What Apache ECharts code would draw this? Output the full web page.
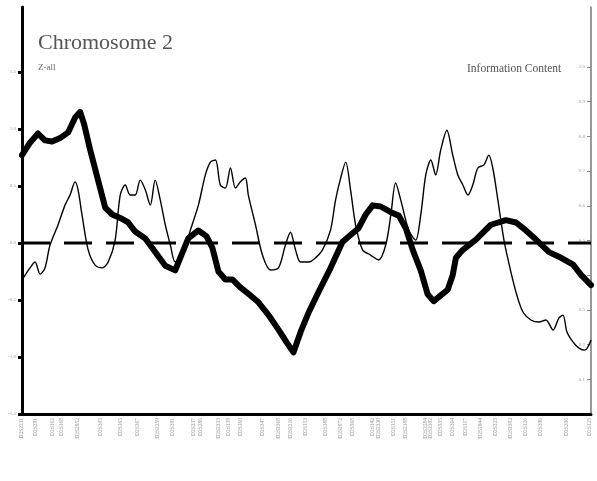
<!DOCTYPE html>
<html>
<head>
<meta charset="utf-8">
<script src="https://cdn.jsdelivr.net/npm/echarts@6/dist/echarts.min.js"></script>
<style>
  html, body { margin: 0; padding: 0; background: #fff; }
  #chart { width: 597px; height: 481px; }
</style>
</head>
<body>
<div id="chart"></div>
<script>
// Genehunter multipoint output for chromosome 2: Z-all (left axis) and information content (right axis)

// marker positions along the chromosome (cM) and their names
const markerPos = [0, 6.2, 14.3, 19.0, 26.6, 37.1, 46.6, 54.7, 64.2, 71.3, 81.3, 84.6, 93.2, 97.9,
  103.6, 114.1, 121.7, 127.4, 134.5, 144.0, 151.2, 156.9, 166.4, 169.2, 176.4, 182.1, 191.6, 194.0,
  198.7, 204.4, 210.6, 217.7, 224.9, 232.0, 239.1, 246.3, 258.2, 269.1];
const markerNames = ['D2S2211', 'D2S281', 'D2S162', 'D2S168', 'D2S2952', 'D2S305', 'D2S165', 'D2S367',
  'D2S2259', 'D2S391', 'D2S337', 'D2S286', 'D2S2333', 'D2S139', 'D2S160', 'D2S347', 'D2S2368',
  'D2S2216', 'D2S113', 'D2S388', 'D2S2972', 'D2S368', 'D2S142', 'D2S2330', 'D2S151', 'D2S2188',
  'D2S2284', 'D2S2302', 'D2S335', 'D2S364', 'D2S117', 'D2S2944', 'D2S325', 'D2S2382', 'D2S126',
  'D2S396', 'D2S206', 'D2S125'];

// Z-all score: [position cM, Z]
const zAll = [[0, 0.77], [3.8, 0.88], [7.6, 0.96], [10.9, 0.90], [14.3, 0.89], [18.1, 0.92], [21.9, 0.97],
  [25.2, 1.10], [27.6, 1.15], [29.5, 1.04], [32.3, 0.82], [36.1, 0.55], [39.5, 0.31], [42.8, 0.25],
  [46.6, 0.22], [50.4, 0.18], [53.7, 0.10], [58.5, 0.04], [63.2, -0.08], [68.0, -0.20], [72.7, -0.24],
  [75.1, -0.13], [78.9, 0.04], [83.7, 0.11], [87.5, 0.06], [90.3, -0.04], [93.2, -0.25], [96.5, -0.32],
  [99.8, -0.32], [103.6, -0.39], [108.4, -0.46], [112.2, -0.52], [116.9, -0.63], [121.7, -0.76],
  [125.5, -0.87], [128.8, -0.96], [132.2, -0.78], [136.0, -0.61], [140.7, -0.43], [146.4, -0.22],
  [152.1, 0.01], [155.9, 0.07], [159.7, 0.13], [163.1, 0.25], [166.4, 0.33], [170.2, 0.32],
  [175.0, 0.27], [178.8, 0.24], [182.1, 0.13], [185.4, -0.06], [189.2, -0.24], [192.5, -0.45],
  [195.4, -0.51], [198.7, -0.46], [202.0, -0.41], [204.4, -0.28], [205.9, -0.13], [209.2, -0.06],
  [215.4, 0.03], [222.5, 0.16], [229.6, 0.20], [234.4, 0.18], [239.1, 0.11], [243.9, 0.03],
  [250.1, -0.08], [255.8, -0.13], [261.5, -0.19], [265.3, -0.28], [270.0, -0.37]];

// information content: [position cM, IC]
const infoContent = [[0, 0.386], [3.8, 0.421], [6.2, 0.438], [8.6, 0.403], [10.9, 0.421], [13.3, 0.487],
  [17.1, 0.545], [20.4, 0.602], [22.8, 0.631], [25.2, 0.669], [26.6, 0.646], [28.5, 0.573],
  [31.4, 0.473], [34.7, 0.429], [38.0, 0.421], [40.9, 0.438], [44.2, 0.501], [46.6, 0.631],
  [49.0, 0.660], [51.3, 0.631], [53.7, 0.631], [56.1, 0.674], [58.5, 0.646], [60.9, 0.602],
  [63.2, 0.674], [65.6, 0.617], [68.0, 0.545], [70.4, 0.487], [72.7, 0.438], [76.1, 0.458],
  [79.9, 0.530], [83.7, 0.602], [87.0, 0.689], [89.4, 0.726], [91.8, 0.732], [94.1, 0.660],
  [96.5, 0.651], [98.9, 0.709], [101.3, 0.651], [103.6, 0.669], [106.0, 0.680], [107.4, 0.631],
  [110.8, 0.545], [114.1, 0.458], [117.9, 0.415], [121.7, 0.421], [125.0, 0.487], [127.4, 0.524],
  [129.8, 0.473], [132.2, 0.438], [136.0, 0.438], [139.3, 0.450], [142.6, 0.473], [146.4, 0.530],
  [148.8, 0.617], [151.2, 0.680], [153.6, 0.726], [155.9, 0.646], [158.3, 0.545], [161.6, 0.473],
  [165.4, 0.458], [169.2, 0.444], [172.6, 0.487], [175.0, 0.573], [177.3, 0.666], [179.7, 0.617],
  [183.5, 0.530], [186.8, 0.501], [189.2, 0.573], [191.6, 0.689], [194.0, 0.732], [196.3, 0.689],
  [198.7, 0.761], [201.6, 0.818], [204.4, 0.746], [206.8, 0.689], [209.2, 0.660], [211.6, 0.631],
  [213.9, 0.660], [216.3, 0.709], [219.2, 0.718], [221.5, 0.746], [223.4, 0.709], [225.8, 0.617],
  [228.7, 0.501], [232.0, 0.409], [234.8, 0.343], [237.7, 0.294], [241.5, 0.271], [245.3, 0.265],
  [248.6, 0.271], [252.0, 0.242], [254.8, 0.277], [256.7, 0.285], [258.6, 0.236], [261.5, 0.207],
  [264.3, 0.190], [267.1, 0.184], [270.0, 0.213]];

// tick labels
const zTicks = [-1.5, -1.0, -0.5, 0, 0.5, 1.0, 1.5];
const icTicks = [0.1, 0.2, 0.3, 0.4, 0.5, 0.6, 0.7, 0.8, 0.9, 1.0];

const zeroLine = [[0, 0], [270, 0]];

const serif = '"Liberation Serif", "DejaVu Serif", serif';
const chart = echarts.init(document.getElementById('chart'), null, { renderer: 'canvas' });

chart.setOption({
  animation: false,
  backgroundColor: '#fff',
  title: [
    { text: 'Chromosome 2', left: 33, top: 27, padding: 5,
      textStyle: { fontFamily: serif, fontSize: 22, fontWeight: 'normal', color: '#555' } },
    { text: 'Z-all', left: 33, top: 58, padding: 5,
      textStyle: { fontFamily: serif, fontSize: 9, fontWeight: 'normal', color: '#666' } },
    { text: 'Information Content', left: 462, top: 58, padding: 5,
      textStyle: { fontFamily: serif, fontSize: 11.5, fontWeight: 'normal', color: '#555' } }
  ],
  grid: { left: 22, right: 6, top: 7, bottom: 67 },
  xAxis: {
    type: 'value', min: 0, max: 270,
    axisLine: { show: true, onZero: false, lineStyle: { color: '#000', width: 3 } },
    axisTick: { show: false },
    splitLine: { show: false },
    axisLabel: {
      customValues: markerPos,
      formatter: function (v) {
        const i = markerPos.findIndex(p => Math.abs(p - v) < 1e-6);
        return i >= 0 ? markerNames[i] : '';
      },
      rotate: 90, margin: 4, fontFamily: serif, fontSize: 5.5, color: '#999',
      showMinLabel: true, showMaxLabel: true
    }
  },
  yAxis: [
    {
      type: 'value', min: -1.5, max: 2.07, position: 'left',
      axisLine: { show: true, lineStyle: { color: '#000', width: 3 } },
      axisTick: { show: true, customValues: zTicks, inside: false, length: 4, lineStyle: { color: '#000', width: 3 } },
      axisLabel: { customValues: zTicks, formatter: v => v.toFixed(1), margin: 6,
        fontFamily: serif, fontSize: 5, color: '#999' },
      splitLine: { show: false }
    },
    {
      type: 'value', min: 0, max: 1.173, position: 'right',
      axisLine: { show: true, lineStyle: { color: '#777', width: 1.5 } },
      axisTick: { show: true, customValues: icTicks, inside: true, length: 4, lineStyle: { color: '#888', width: 1 } },
      axisLabel: { customValues: icTicks, inside: true, formatter: v => v.toFixed(1), margin: 6,
        fontFamily: serif, fontSize: 5, color: '#999' },
      splitLine: { show: false }
    }
  ],
  series: [
    {
      name: 'Zero', type: 'line', yAxisIndex: 0, data: zeroLine, symbol: 'none', silent: true,
      lineStyle: { color: '#000', width: 3, type: [28, 14] }, z: 1
    },
    {
      name: 'Information Content', type: 'line', yAxisIndex: 1, data: infoContent, symbol: 'none',
      smooth: 0.3, lineStyle: { color: '#000', width: 1.4 }, z: 2
    },
    {
      name: 'Z-all', type: 'line', yAxisIndex: 0, data: zAll, symbol: 'none',
      lineStyle: { color: '#000', width: 6, join: 'round', cap: 'round' }, z: 3
    }
  ]
});
</script>
</body>
</html>
